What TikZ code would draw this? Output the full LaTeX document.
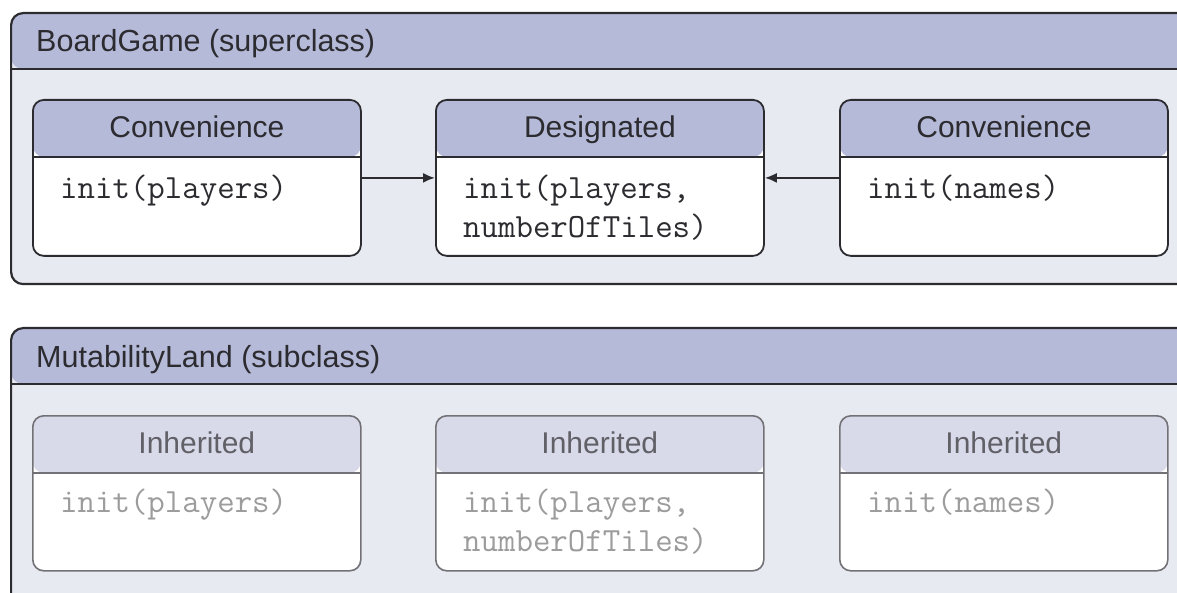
\documentclass[tikz,border=0pt]{standalone}
\usepackage{fontspec}
\setmainfont{Liberation Sans}
\usetikzlibrary{arrows.meta}

\definecolor{hdr}{HTML}{B6BAD9}
\definecolor{hdrlight}{HTML}{D8DAEA}
\definecolor{panel}{HTML}{E8EAF2}
\definecolor{ink}{HTML}{2B2B30}
\definecolor{greyline}{HTML}{727276}
\definecolor{greytitle}{HTML}{606066}
\definecolor{greycode}{HTML}{9C9C9C}

\tikzset{
  outerbox/.style={draw=ink, line width=2.2pt, rounded corners=12pt, fill=panel,
    anchor=north west, inner sep=0pt,
    path picture={
      \fill[hdr] (path picture bounding box.north west) rectangle
        ([yshift=-56pt]path picture bounding box.north east);
      \draw[ink, line width=2.6pt] ([yshift=-56pt]path picture bounding box.north west)
        -- ([yshift=-56pt]path picture bounding box.north east);}},
  methodbox/.style={draw=ink, line width=1.8pt, rounded corners=11pt, fill=white,
    anchor=north west, inner sep=0pt, minimum width=328pt, minimum height=156pt,
    path picture={
      \fill[hdr] (path picture bounding box.north west) rectangle
        ([yshift=-57pt]path picture bounding box.north east);
      \draw[ink, line width=2.4pt] ([yshift=-57pt]path picture bounding box.north west)
        -- ([yshift=-57pt]path picture bounding box.north east);}},
  inheritbox/.style={draw=greyline, line width=1.6pt, rounded corners=11pt, fill=white,
    anchor=north west, inner sep=0pt, minimum width=328pt, minimum height=155pt,
    path picture={
      \fill[hdrlight] (path picture bounding box.north west) rectangle
        ([yshift=-57pt]path picture bounding box.north east);
      \draw[greyline, line width=1.8pt] ([yshift=-57pt]path picture bounding box.north west)
        -- ([yshift=-57pt]path picture bounding box.north east);}},
  classtitle/.style={font=\fontsize{30.5}{36}\selectfont, text=ink, anchor=base west, inner sep=0pt},
  kind/.style={font=\fontsize{30}{36}\selectfont, text=ink, anchor=base, inner sep=0pt},
  kindgrey/.style={kind, text=greytitle},
  code/.style={font=\ttfamily\fontsize{33.9}{40}\selectfont, text=ink, anchor=base west, inner sep=0pt},
  codegrey/.style={code, text=greycode},
  conn/.style={draw=ink, line width=2pt, -{Latex[length=12pt,width=10pt]}},
}

\begin{document}
\begin{tikzpicture}[x=1pt, y=-1pt]
  \useasboundingbox (0,0) rectangle (1177,593);
  \fill[white] (0,0) rectangle (1177,593);
  \clip (0,0) rectangle (1177,593);

  % superclass panel
  \node[outerbox, minimum width=1200pt, minimum height=271pt] (sup) at (10,12) {};
  \node[classtitle] (suptitle) at ([xshift=26pt, yshift=-40pt]sup.north west) {BoardGame (superclass)};

  \node[methodbox] (c1) at (32,99) {};
  \node[methodbox] (d)  at (435,99) {};
  \node[methodbox] (c2) at (839,99) {};

  \node[kind] (c1k) at ([yshift=-39pt]c1.north) {Convenience};
  \node[kind] (dk)  at ([yshift=-39pt]d.north) {Designated};
  \node[kind] (c2k) at ([yshift=-39pt]c2.north) {Convenience};

  \node[code] (c1c)  at ([xshift=28pt, yshift=-100pt]c1.north west) {init(players)};
  \node[code] (dc1)  at ([xshift=28pt, yshift=-100pt]d.north west) {init(players,};
  \node[code] (dc2)  at ([xshift=28pt, yshift=-139pt]d.north west) {numberOfTiles)};
  \node[code] (c2c)  at ([xshift=28pt, yshift=-100pt]c2.north west) {init(names)};

  \draw[conn] (c1.east) -- (d.west);
  \draw[conn] (c2.west) -- (d.east);

  % subclass panel
  \node[outerbox, minimum width=1200pt, minimum height=300pt] (sub) at (10,327) {};
  \node[classtitle] (subtitle) at ([xshift=26pt, yshift=-40pt]sub.north west) {MutabilityLand (subclass)};

  \node[inheritbox] (i1) at (32,415) {};
  \node[inheritbox] (i2) at (435,415) {};
  \node[inheritbox] (i3) at (839,415) {};

  \node[kindgrey] (i1k) at ([yshift=-38pt]i1.north) {Inherited};
  \node[kindgrey] (i2k) at ([yshift=-38pt]i2.north) {Inherited};
  \node[kindgrey] (i3k) at ([yshift=-38pt]i3.north) {Inherited};

  \node[codegrey] (i1c)  at ([xshift=28pt, yshift=-97pt]i1.north west) {init(players)};
  \node[codegrey] (i2c1) at ([xshift=28pt, yshift=-97pt]i2.north west) {init(players,};
  \node[codegrey] (i2c2) at ([xshift=28pt, yshift=-136pt]i2.north west) {numberOfTiles)};
  \node[codegrey] (i3c)  at ([xshift=28pt, yshift=-97pt]i3.north west) {init(names)};
\end{tikzpicture}
\end{document}
